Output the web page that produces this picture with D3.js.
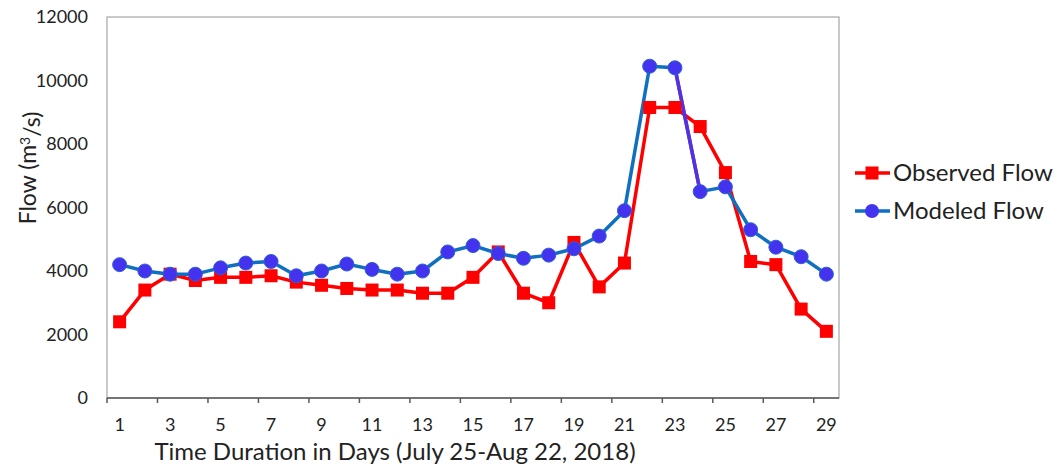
<!DOCTYPE html>
<html>
<head>
<meta charset="utf-8">
<script src="https://cdn.jsdelivr.net/npm/d3@7"></script>
<style>
  body { margin: 0; background: #fff; }
  svg text { font-family: Lato, "Open Sans", sans-serif; fill: #222; }
</style>
</head>
<body>
<div id="chart"></div>
<script>
var days = d3.range(1, 30);
var observed = [2400, 3400, 3900, 3700, 3800, 3800, 3850, 3650, 3550, 3450,
                3400, 3400, 3300, 3300, 3800, 4600, 3300, 3000, 4900, 3500,
                4250, 9150, 9150, 8550, 7100, 4300, 4200, 2800, 2100];
var modeled = [4200, 4000, 3900, 3900, 4100, 4250, 4300, 3850, 4000, 4220,
               4050, 3900, 4000, 4600, 4800, 4550, 4400, 4500, 4700, 5100,
               5900, 10450, 10400, 6500, 6650, 5300, 4750, 4450, 3900];
var yTicks = [0, 2000, 4000, 6000, 8000, 10000, 12000];

var W = 1060, H = 468;
var plotLeft = 107, plotRight = 839, plotTop = 17, plotBottom = 398;

var svg = d3.select("#chart").append("svg")
    .attr("width", W)
    .attr("height", H);

var x = d3.scaleBand().domain(days).range([plotLeft, plotRight]).padding(0);
var y = d3.scaleLinear().domain([0, 12000]).range([plotBottom, plotTop]);
var cx = function (d) { return x(d) + x.bandwidth() / 2; };

// plot frame
svg.append("rect")
    .attr("x", plotLeft).attr("y", plotTop)
    .attr("width", plotRight - plotLeft).attr("height", plotBottom - plotTop)
    .attr("fill", "none").attr("stroke", "#a6a6a6").attr("stroke-width", 1.2);

// y labels (no tick marks)
svg.append("g")
    .selectAll("text")
    .data(yTicks)
    .enter().append("text")
    .attr("x", 88)
    .attr("y", function (d) { return y(d); })
    .attr("dy", "0.35em")
    .attr("text-anchor", "end")
    .style("font-size", "18px")
    .text(function (d) { return d; });

// x axis: ticks between categories every 2 days, labels on odd days
var boundaries = d3.range(0, 29, 2).map(function (i) { return x(days[i]); });
svg.append("line")
    .attr("x1", plotLeft).attr("x2", plotRight)
    .attr("y1", plotBottom).attr("y2", plotBottom)
    .attr("stroke", "#595959").attr("stroke-width", 1.5);
svg.append("g")
    .selectAll("line")
    .data(boundaries)
    .enter().append("line")
    .attr("x1", function (d) { return d; }).attr("x2", function (d) { return d; })
    .attr("y1", plotBottom).attr("y2", plotBottom + 5)
    .attr("stroke", "#595959").attr("stroke-width", 1.5);
svg.append("g")
    .selectAll("text")
    .data(days.filter(function (d) { return d % 2 === 1; }))
    .enter().append("text")
    .attr("x", cx)
    .attr("y", 425)
    .attr("dy", "0.35em")
    .attr("text-anchor", "middle")
    .style("font-size", "18px")
    .text(function (d) { return d; });

// axis titles
svg.append("text")
    .attr("x", 395).attr("y", 460)
    .attr("text-anchor", "middle")
    .style("font-size", "24px")
    .text("Time Duration in Days (July 25-Aug 22, 2018)");

var yt = svg.append("text")
    .attr("transform", "translate(28,168) rotate(-90)")
    .attr("text-anchor", "middle")
    .attr("dy", "0.35em")
    .style("font-size", "23px");
yt.append("tspan").text("Flow (m");
yt.append("tspan").attr("dy", "-0.45em").style("font-size", "14px").text("3");
yt.append("tspan").attr("dy", "0.45em").text("/s)");

// series lines
var line = function (vals) {
    return d3.line()
        .x(function (d, i) { return cx(days[i]); })
        .y(function (d) { return y(d); })(vals);
};

svg.append("path")
    .attr("d", line(observed))
    .attr("fill", "none").attr("stroke", "#ff0000").attr("stroke-width", 3.5)
    .attr("stroke-linejoin", "round");

svg.append("path")
    .attr("d", line(modeled))
    .attr("fill", "none").attr("stroke", "#0f6fc0").attr("stroke-width", 3.5)
    .attr("stroke-linejoin", "round");

// the 23 -> 24 segment is drawn purple in the original
svg.append("line")
    .attr("x1", cx(23)).attr("y1", y(modeled[22]))
    .attr("x2", cx(24)).attr("y2", y(modeled[23]))
    .attr("stroke", "#5a2ee0").attr("stroke-width", 3.5);

// markers
svg.append("g")
    .selectAll("rect")
    .data(observed)
    .enter().append("rect")
    .attr("x", function (d, i) { return cx(days[i]) - 6.5; })
    .attr("y", function (d) { return y(d) - 6.5; })
    .attr("width", 13).attr("height", 13)
    .attr("fill", "#ff0000");

svg.append("g")
    .selectAll("circle")
    .data(modeled)
    .enter().append("circle")
    .attr("cx", function (d, i) { return cx(days[i]); })
    .attr("cy", function (d) { return y(d); })
    .attr("r", 7)
    .attr("fill", "#4433ee")
    .attr("stroke", "#2f5fd8").attr("stroke-width", 1);

// legend
var legend = svg.append("g");
var items = [
    { name: "Observed Flow", color: "#ff0000", shape: "square", y: 173 },
    { name: "Modeled Flow", color: "#0f6fc0", shape: "circle", y: 211 }
];
items.forEach(function (it) {
    legend.append("line")
        .attr("x1", 855).attr("x2", 890)
        .attr("y1", it.y).attr("y2", it.y)
        .attr("stroke", it.color).attr("stroke-width", 3.5);
    if (it.shape === "square") {
        legend.append("rect")
            .attr("x", 865.5).attr("y", it.y - 6.5)
            .attr("width", 13).attr("height", 13)
            .attr("fill", "#ff0000");
    } else {
        legend.append("circle")
            .attr("cx", 872).attr("cy", it.y).attr("r", 7)
            .attr("fill", "#4433ee");
    }
    legend.append("text")
        .attr("x", 893).attr("y", it.y)
        .attr("dy", "0.35em")
        .style("font-size", "24px")
        .text(it.name);
});
</script>
</body>
</html>
